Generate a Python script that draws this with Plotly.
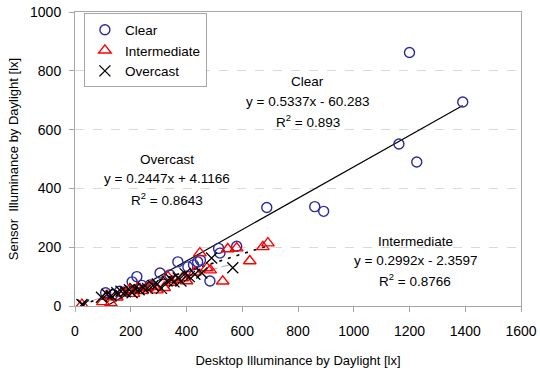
import plotly.graph_objects as go

# Desktop vs sensor illuminance by sky condition [lx]
clear_x = [110, 135, 160, 205, 222, 240, 270, 305, 340, 369, 405, 425, 440, 450,
           484, 515, 520, 580, 688, 860, 892, 1162, 1200, 1226, 1391]
clear_y = [45, 38, 50, 82, 100, 70, 72, 112, 106, 150, 133, 140, 150, 156,
           85, 196, 180, 203, 335, 338, 322, 551, 862, 490, 694]

inter_x = [25, 100, 115, 129, 150, 175, 195, 210, 225, 240, 258, 275, 294, 320,
           333, 345, 360, 385, 400, 430, 448, 473, 485, 530, 548, 580, 627, 674, 692]
inter_y = [5, 14, 35, 10, 30, 45, 55, 42, 62, 52, 61, 65, 54, 62,
           99, 80, 90, 95, 85, 115, 180, 129, 122, 84, 194, 197, 153, 201, 214]

over_x = [25, 30, 95, 115, 130, 150, 165, 180, 195, 205, 215, 230, 245, 260,
          280, 295, 310, 330, 345, 355, 370, 380, 395, 410, 430, 455, 490, 566]
over_y = [5, 3, 30, 40, 35, 45, 50, 48, 55, 45, 60, 55, 62, 60,
          70, 75, 60, 85, 90, 82, 95, 85, 110, 100, 108, 112, 163, 130]

# Linear trend coefficients (slope, intercept) and R²
clear_fit = (0.5337, -60.283, 0.893)
inter_fit = (0.2992, -2.3597, 0.8766)
over_fit = (0.2447, 4.1166, 0.8643)

x_ticks = [0, 200, 400, 600, 800, 1000, 1200, 1400, 1600]
y_ticks = [0, 200, 400, 600, 800, 1000]

FONT = "Liberation Sans, Arial, sans-serif"


def trend(xs, fit):
    a, b, _ = fit
    x0, x1 = min(xs), max(xs)
    return [x0, x1], [a * x0 + b, a * x1 + b]


fig = go.Figure()

# Trend lines
tx, ty = trend(clear_x, clear_fit)
fig.add_trace(go.Scatter(x=tx, y=ty, mode="lines", showlegend=False,
                         line=dict(color="black", width=1.2), hoverinfo="skip"))
tx, ty = trend(inter_x, inter_fit)
fig.add_trace(go.Scatter(x=tx, y=ty, mode="lines", showlegend=False,
                         line=dict(color="black", width=1.6, dash="3px,6px"),
                         hoverinfo="skip"))
tx, ty = trend(over_x, over_fit)
fig.add_trace(go.Scatter(x=tx, y=ty, mode="lines", showlegend=False,
                         line=dict(color="#B0B0B0", width=1.2, dash="8px,4px"),
                         hoverinfo="skip"))

# Measured points
fig.add_trace(go.Scatter(x=clear_x, y=clear_y, mode="markers", name="Clear",
                         marker=dict(symbol="circle-open", size=10, color="#2A2AA0",
                                     line=dict(width=1.4, color="#2A2AA0"))))
fig.add_trace(go.Scatter(x=inter_x, y=inter_y, mode="markers", name="Intermediate",
                         marker=dict(symbol="triangle-up-open", size=11, color="#FF0000",
                                     line=dict(width=1.4, color="#FF0000"))))
fig.add_trace(go.Scatter(x=over_x, y=over_y, mode="markers", name="Overcast",
                         marker=dict(symbol="x-thin-open", size=11, color="black",
                                     line=dict(width=1.3, color="black"))))


def eq_block(name, fit, x, ys):
    a, b, r2 = fit
    sign = "-" if b < 0 else "+"
    lines = [name, f"y = {a}x {sign} {abs(b)}", f"R<sup>2</sup> = {r2}"]
    for txt, y in zip(lines, ys):
        fig.add_annotation(x=x, y=y, xref="x", yref="y", text=txt, showarrow=False,
                           font=dict(family=FONT, size=13.5, color="black"))


eq_block("Clear", clear_fit, 835, [762, 697, 629])
eq_block("Overcast", over_fit, 330, [497, 432, 364])
eq_block("Intermediate", inter_fit, 1220, [221, 156, 88])

axis_common = dict(showline=True, linecolor="#A6A6A6", linewidth=1, mirror=True,
                   ticks="outside", ticklen=5, tickcolor="#A6A6A6",
                   tickfont=dict(family=FONT, size=14, color="black"),
                   zeroline=False, automargin=False)

fig.update_xaxes(range=[0, 1600], tickvals=x_ticks, showgrid=False,
                 ticklabelstandoff=7,
                 title=dict(text="Desktop Illuminance by Daylight [lx]",
                            font=dict(family=FONT, size=13, color="black"), standoff=25),
                 **axis_common)
fig.update_yaxes(range=[0, 1000], tickvals=y_ticks, showgrid=True,
                 gridcolor="#D9D9D9", griddash="dash", gridwidth=1,
                 ticklabelstandoff=5,
                 title=dict(text="Sensor  Illuminance by Daylight [lx]",
                            font=dict(family=FONT, size=13, color="black"), standoff=8),
                 **axis_common)

fig.update_layout(
    width=540, height=368,
    margin=dict(l=75, r=19, t=12, b=62),
    plot_bgcolor="white", paper_bgcolor="white",
    font=dict(family=FONT, size=13, color="black"),
    legend=dict(x=0.02, y=0.995, xanchor="left", yanchor="top",
                bgcolor="white", bordercolor="#A6A6A6", borderwidth=1,
                font=dict(family=FONT, size=13.5), tracegroupgap=0),
)

fig.write_html("out.html")
